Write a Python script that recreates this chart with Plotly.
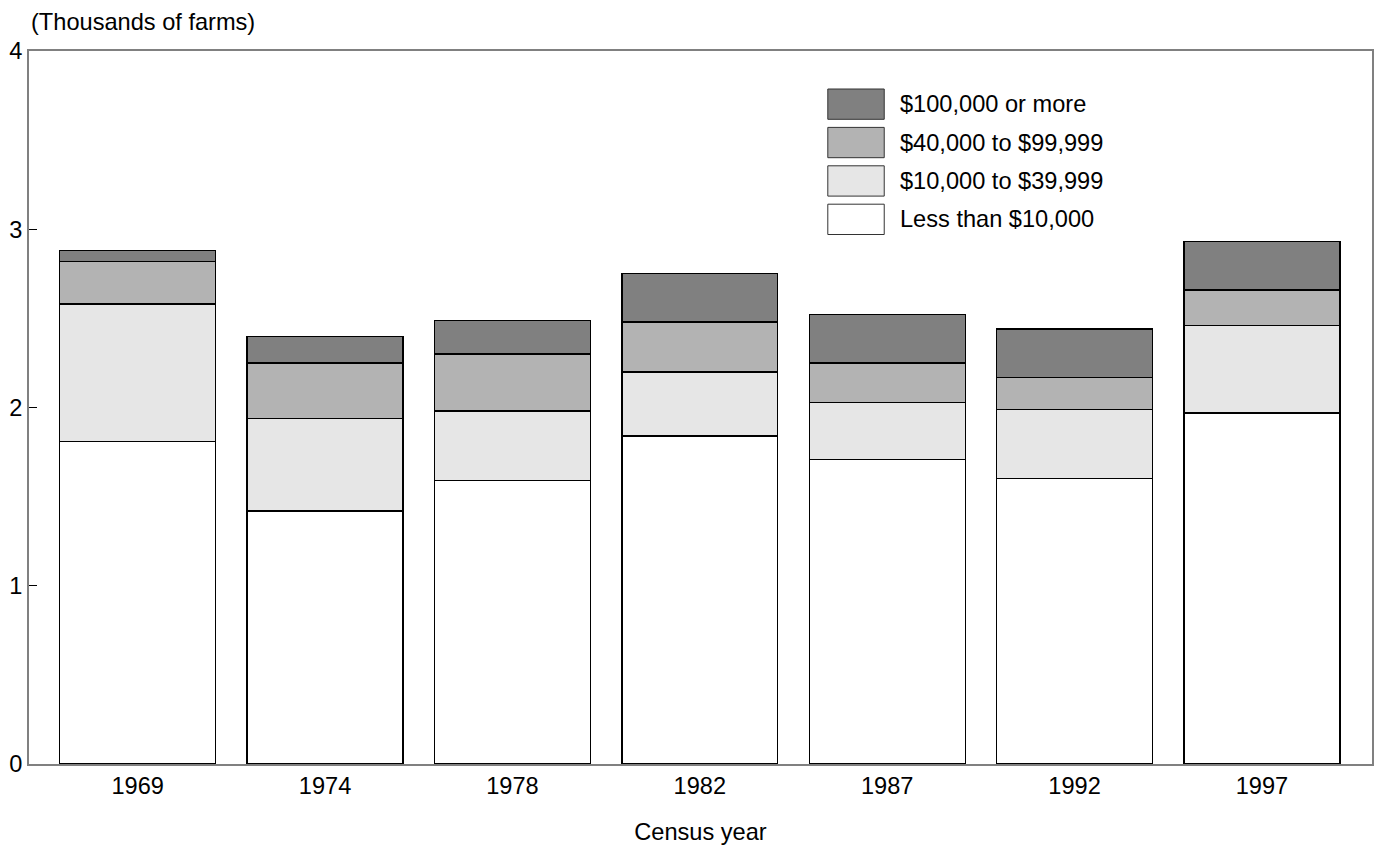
import plotly.graph_objects as go

years = ["1969", "1974", "1978", "1982", "1987", "1992", "1997"]
less_10k = [1.81, 1.42, 1.59, 1.84, 1.71, 1.60, 1.97]
k10_39 = [0.77, 0.52, 0.39, 0.36, 0.32, 0.39, 0.49]
k40_99 = [0.24, 0.31, 0.32, 0.28, 0.22, 0.18, 0.20]
k100_plus = [0.06, 0.15, 0.19, 0.27, 0.27, 0.27, 0.27]

series_names = ["Less than $10,000", "$10,000 to $39,999", "$40,000 to $99,999", "$100,000 or more"]
series_values = [less_10k, k10_39, k40_99, k100_plus]
series_colors = ["#ffffff", "#e6e6e6", "#b3b3b3", "#808080"]

y_ticks = [0, 1, 2, 3, 4]

FONT = "Liberation Sans, Arial, sans-serif"
FS = 23.6

fig = go.Figure()
for name, vals, col in zip(series_names, series_values, series_colors):
    fig.add_trace(go.Bar(
        x=years, y=vals, name=name,
        marker=dict(color=col, line=dict(color="black", width=1.3)),
        showlegend=False,
    ))

# Custom legend (large swatches), top entry = last series
W, H = 1377, 846
ml, mr, mt, mb = 29, 3, 51, 82
pw, ph = W - ml - mr, H - mt - mb

def px_x(px):
    return (px - ml) / pw

def px_y(py):
    return (H - mb - py) / ph

shapes = []
annotations = []
box_x0, box_x1 = 829, 885.5
text_x = 899
first_top, box_h, step = 89, 30.3, 38.4
legend_order = list(range(len(series_names)))[::-1]
for i, idx in enumerate(legend_order):
    top = first_top + i * step
    shapes.append(dict(
        type="rect", xref="paper", yref="paper",
        x0=px_x(box_x0), x1=px_x(box_x1),
        y0=px_y(top + box_h), y1=px_y(top),
        fillcolor=series_colors[idx],
        line=dict(color="#333333", width=1),
    ))
    annotations.append(dict(
        xref="paper", yref="paper",
        x=px_x(text_x), y=px_y(top + box_h / 2),
        xanchor="left", yanchor="middle",
        text=series_names[idx], showarrow=False,
        font=dict(family=FONT, size=FS, color="black"),
    ))

annotations.append(dict(
    xref="paper", yref="paper", x=0, y=1,
    xanchor="left", yanchor="middle", xshift=0, yshift=29,
    text="(Thousands of farms)", showarrow=False,
    font=dict(family=FONT, size=FS, color="black"),
))

fig.update_layout(
    width=W, height=H,
    margin=dict(l=ml, r=mr, t=mt, b=mb, pad=0),
    paper_bgcolor="white", plot_bgcolor="white",
    barmode="stack", bargap=0.168,
    font=dict(family=FONT, size=FS, color="black"),
    shapes=shapes, annotations=annotations,
    showlegend=False,
)
fig.update_xaxes(
    type="category", range=[-0.580, 6.587],
    showline=True, linecolor="#808080", linewidth=2, mirror=True,
    ticks="", showgrid=False, zeroline=False,
    tickfont=dict(family=FONT, size=FS, color="black"),
    title=dict(text="Census year", standoff=25,
               font=dict(family=FONT, size=FS, color="black")),
)
fig.update_yaxes(
    range=[0, 4], tickvals=y_ticks, ticktext=[str(t) for t in y_ticks],
    showline=True, linecolor="#808080", linewidth=2, mirror=True,
    ticks="inside", ticklen=8, tickwidth=1, tickcolor="black",
    showgrid=False, zeroline=False,
    tickfont=dict(family=FONT, size=FS, color="black"),
)

fig.write_html(
    "out.html",
    config={"displayModeBar": False},
    post_script="document.body.style.margin='0';document.body.style.overflow='hidden';",
)
